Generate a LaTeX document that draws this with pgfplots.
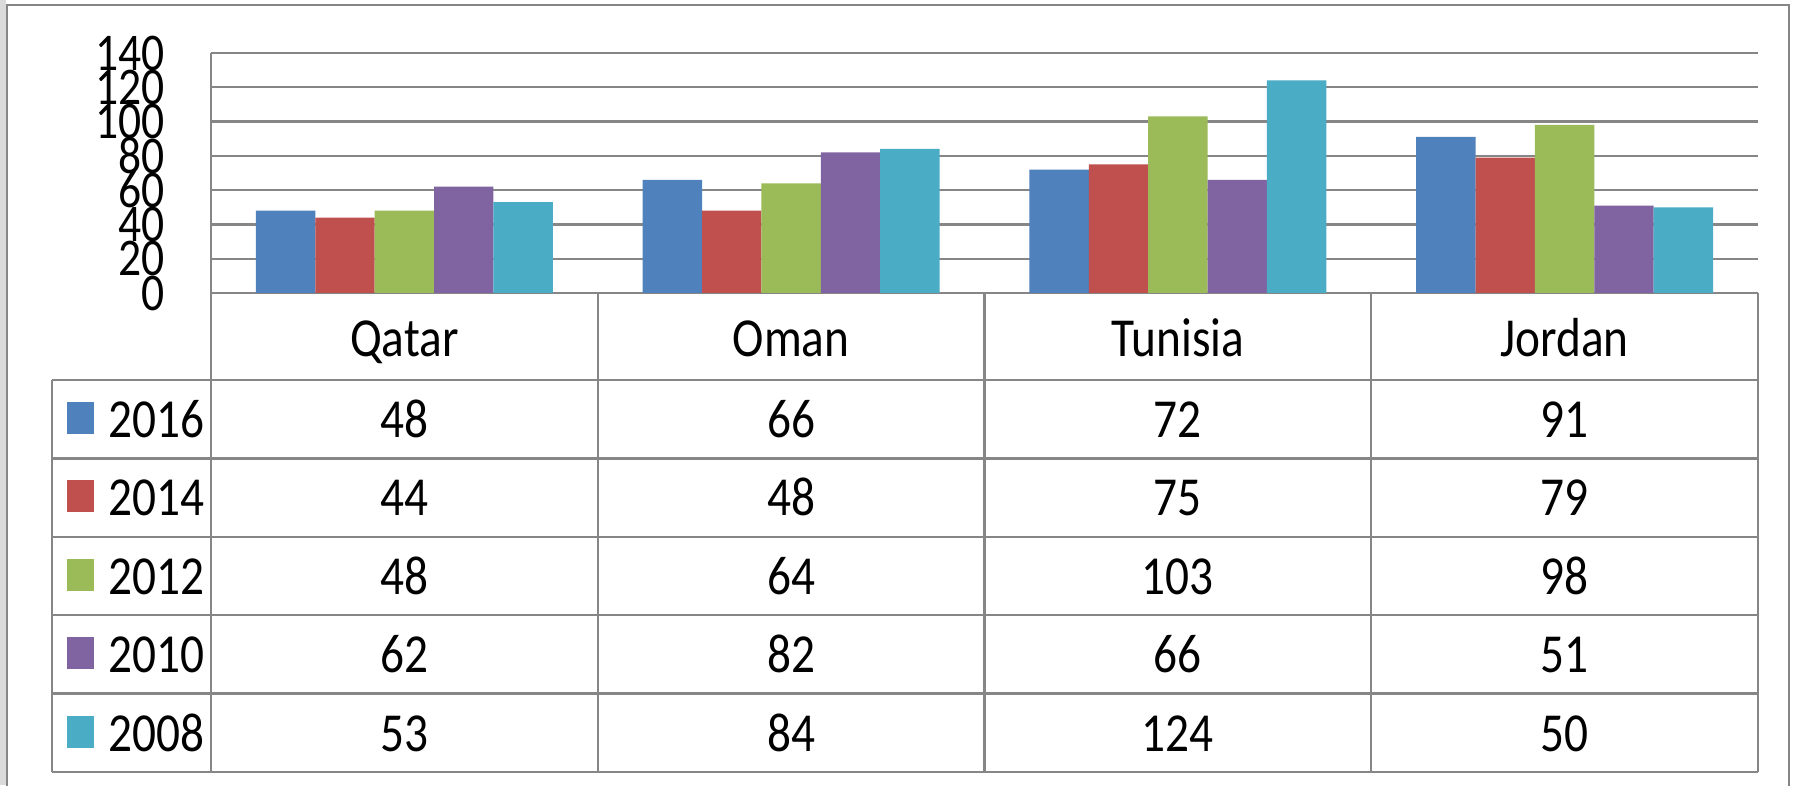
\documentclass[border=0pt]{standalone}
\usepackage{pgfplots}
\pgfplotsset{compat=1.18}
\usepackage{pgfplotstable}
\usepackage{fontspec}
\setmainfont{Carlito}
\newfontfamily\calf[FakeStretch=0.86]{Carlito}
\definecolor{cA}{HTML}{4F81BD}
\definecolor{cB}{HTML}{C0504D}
\definecolor{cC}{HTML}{9BBB59}
\definecolor{cD}{HTML}{8064A2}
\definecolor{cE}{HTML}{4BACC6}
\definecolor{lg}{RGB}{134,134,134}

\pgfplotstableread{
x y16 y14 y12 y10 y08
0 48 44 48 62 53
1 66 48 64 82 84
2 72 75 103 66 124
3 91 79 98 51 50
}\data

\begin{document}
\begin{tikzpicture}
\path[use as bounding box] (0,0) rectangle (1797pt,785pt);
\fill[white] (0,0) rectangle (1797pt,785pt);
\begin{axis}[
  at={(211pt,492pt)}, anchor=south west,
  scale only axis, width=1547pt, height=240pt,
  xmin=-0.5, xmax=3.5, ymin=0, ymax=140,
  ybar=0pt, bar width=59.4pt,
  axis line style={draw=none},
  xtick=\empty,
  ytick={0,20,40,60,80,100,120,140},
  yticklabels={0,20,40,60,80,100,120,140},
  major tick length=0pt,
  ymajorgrids, grid style={draw=lg, line width=2.3pt},
  yticklabel style={font=\calf\fontsize{53}{53}\selectfont, anchor=east, inner sep=0pt, xshift=-46pt},
  clip=false]
\addplot[fill=cA, draw=none] table[x=x,y=y16]{\data};
\addplot[fill=cB, draw=none] table[x=x,y=y14]{\data};
\addplot[fill=cC, draw=none] table[x=x,y=y12]{\data};
\addplot[fill=cD, draw=none] table[x=x,y=y10]{\data};
\addplot[fill=cE, draw=none] table[x=x,y=y08]{\data};
\end{axis}
\begin{scope}[shift={(0pt,785pt)}, x=1pt, y=-1pt]
  \fill[gray!28] (0,0) rectangle (5.5,785);
  \draw[lg, line width=2.5pt] (7,800) -- (7,5) -- (1789,5) -- (1789,800);
  \begin{scope}[lg, line width=2.3pt]
    \draw (211,53) -- (211,772);
    \foreach \x in {598,984.5,1371,1758} \draw (\x,293) -- (\x,772);
    \draw (52,380) -- (1758,380);
    \foreach \y in {458.4,536.8,615.2,693.6,772} \draw (52,\y) -- (1758,\y);
    \draw (52,380) -- (52,772);
  \end{scope}
  \begin{scope}[every node/.style={font=\calf\fontsize{55}{60}\selectfont, inner sep=0pt}]
    \foreach \c [count=\i from 0] in {Qatar,Oman,Tunisia,Jordan}
      \node[anchor=base] at ({211+386.75*(\i+0.5)},357) {\c};
    \foreach \yr/\col/\va/\vb/\vc/\vd [count=\r from 0] in
      {2016/cA/48/66/72/91, 2014/cB/44/48/75/79, 2012/cC/48/64/103/98,
       2010/cD/62/82/66/51, 2008/cE/53/84/124/50} {
      \pgfmathsetmacro{\rt}{380+78.4*\r}
      \pgfmathsetmacro{\bl}{\rt+78.4-21}
      \fill[\col] (67,\rt+22) rectangle (94,\rt+54);
      \node[anchor=base west] at (108,\bl) {\yr};
      \node[anchor=base] at (404.4,\bl) {\va};
      \node[anchor=base] at (791.1,\bl) {\vb};
      \node[anchor=base] at (1177.9,\bl) {\vc};
      \node[anchor=base] at (1564.6,\bl) {\vd};
    }
  \end{scope}
\end{scope}
\end{tikzpicture}
\end{document}
